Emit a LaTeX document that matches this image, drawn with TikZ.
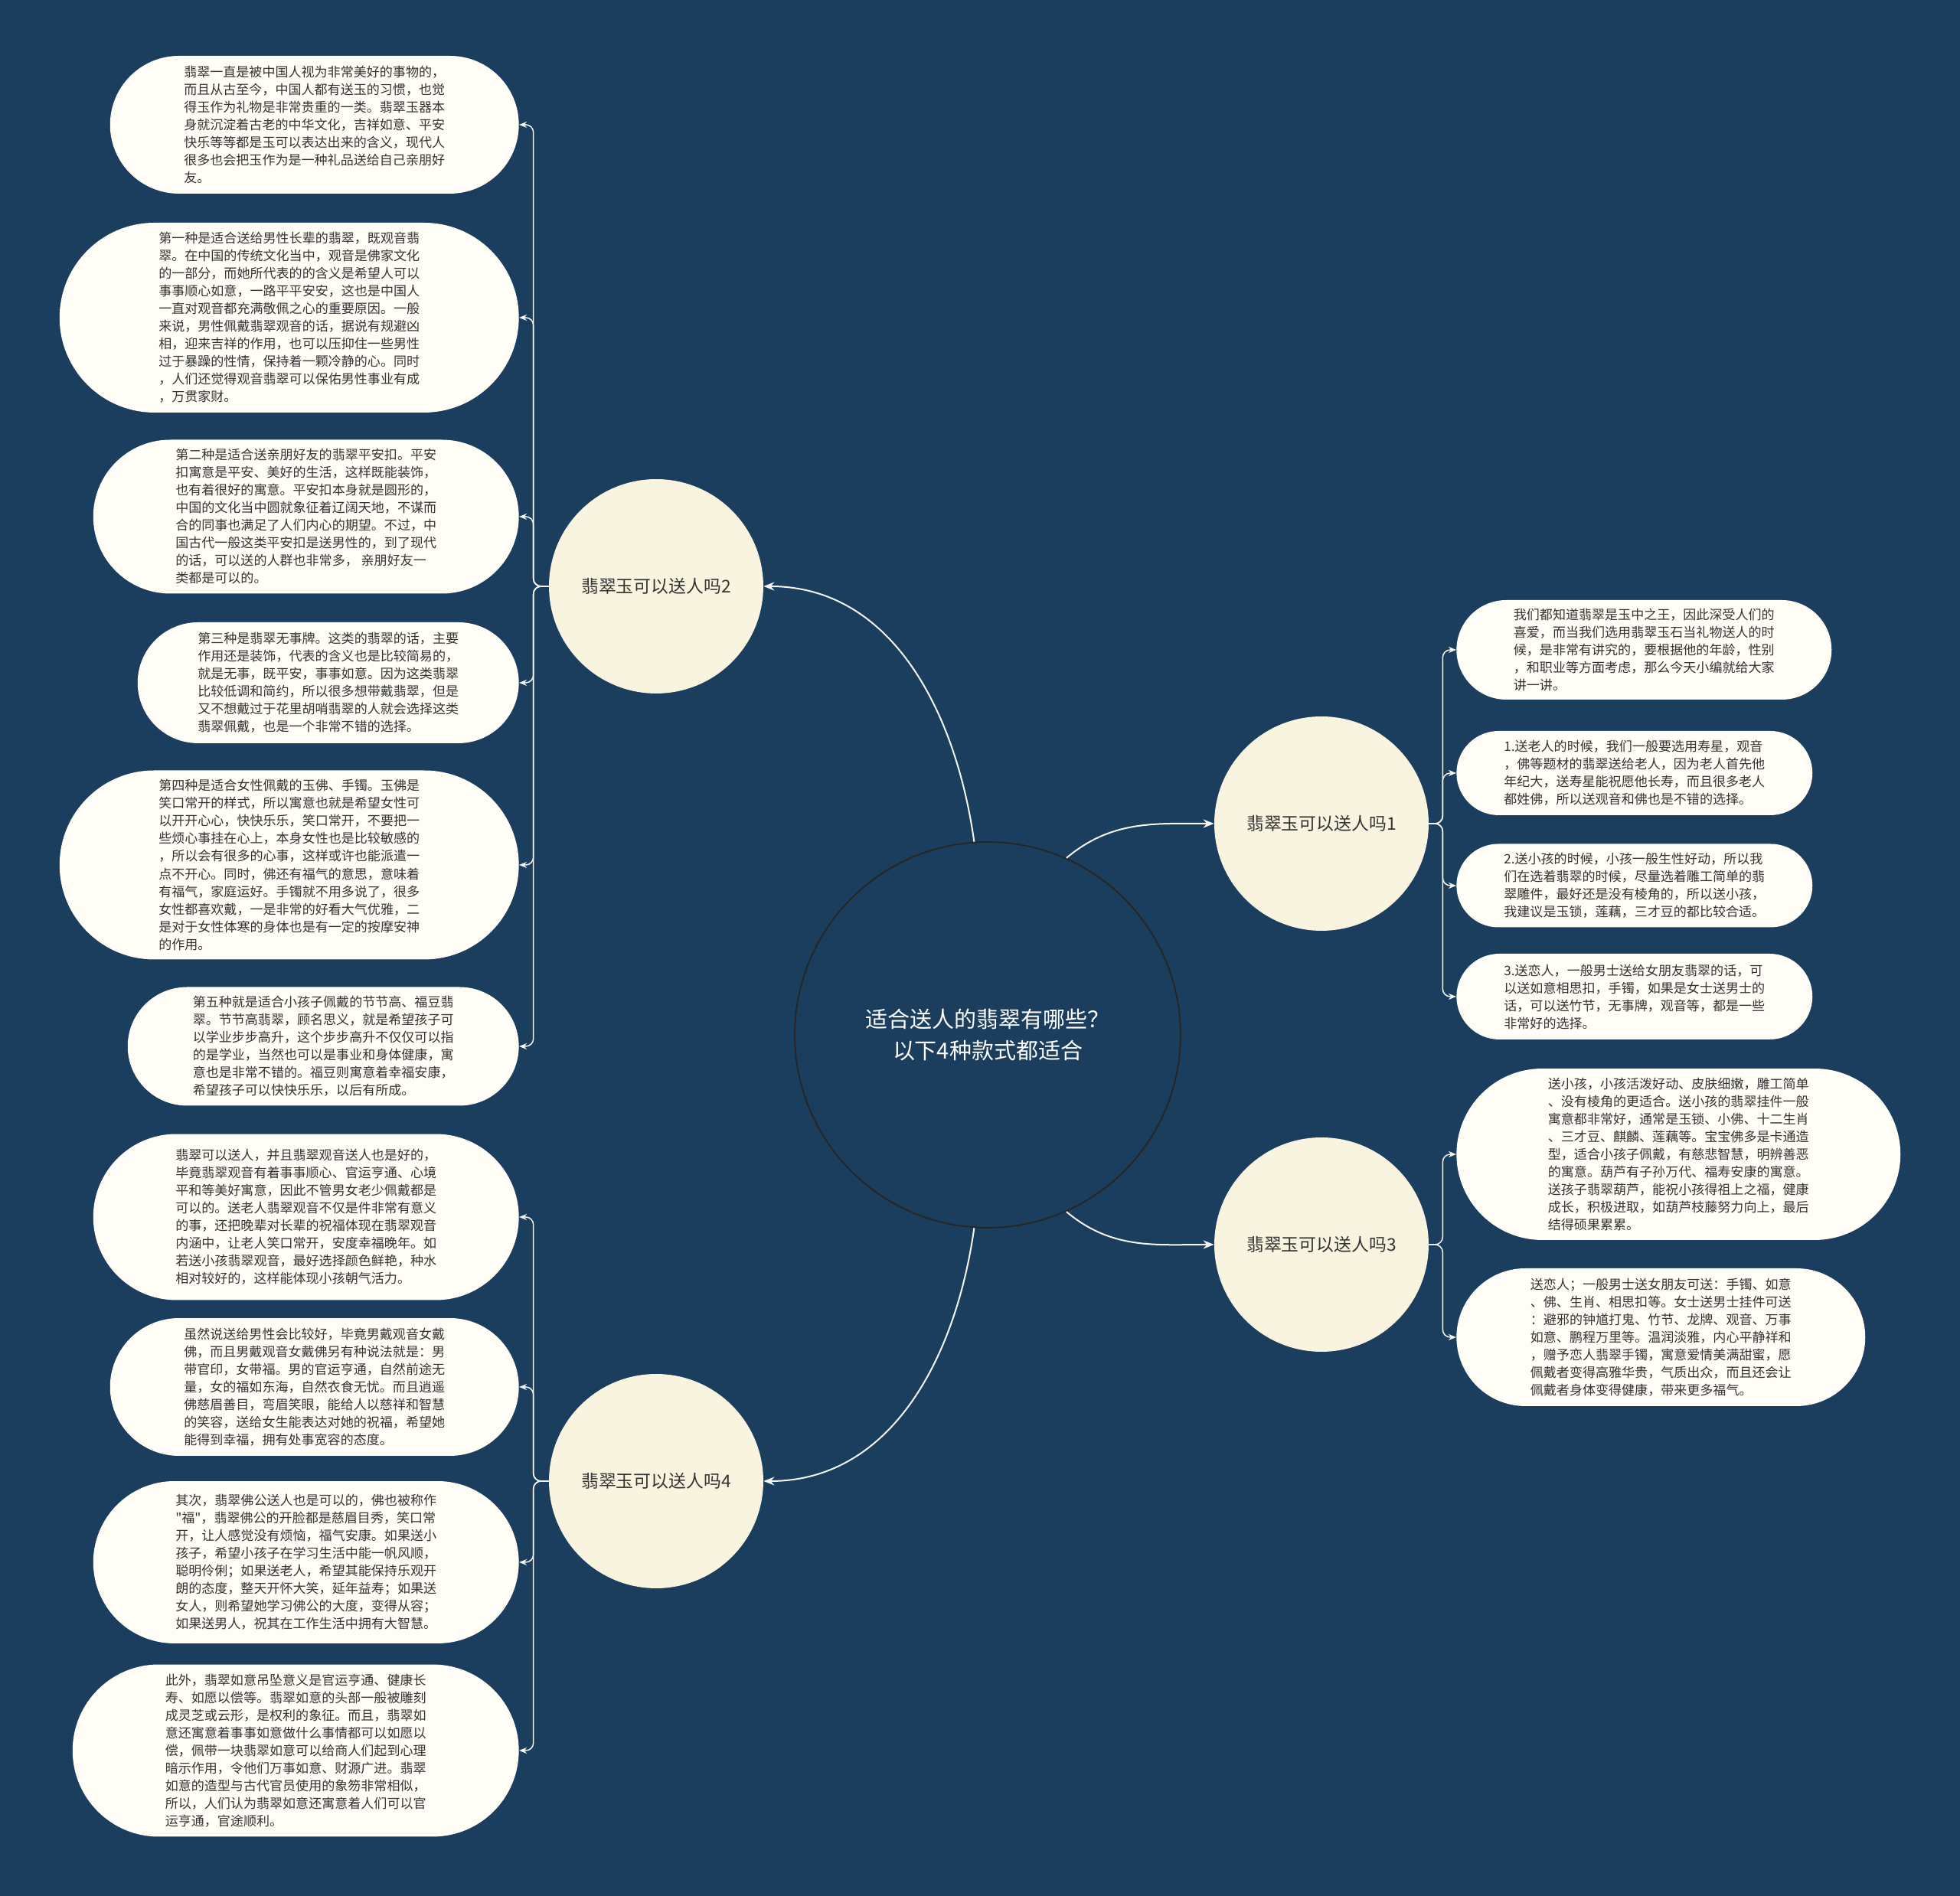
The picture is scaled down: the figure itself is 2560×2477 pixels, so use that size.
\documentclass[tikz,border=0pt]{standalone}
\usepackage{fontspec}
\setmainfont{Noto Sans CJK SC}[Ligatures=TeXOff]
\usepackage{tikz}
\usetikzlibrary{
  arrows.meta,
  shapes.misc,
  positioning
}
\definecolor{bgnavy}{RGB}{28, 62, 94}
\definecolor{creamA}{RGB}{248, 244, 224}
\definecolor{creamB}{RGB}{255, 253, 246}
\definecolor{txtgray}{RGB}{51, 51, 51}
\definecolor{linewhite}{RGB}{245, 245, 240}
\tikzset{
  % Markaziy doira
  rootnode/.style   = {circle, draw=black!85, line width=0.04cm, fill=bgnavy,
                       text=white, minimum size=10.08cm, align=center,
                       font=\fontsize{16.5pt}{23pt}\selectfont},
  % Shoxlar
  branchnode/.style = {circle, fill=creamA, minimum size=5.6cm, text=txtgray,
                       font=\fontsize{13pt}{16pt}\selectfont},
  % Barglar
  leafnode/.style   = {rounded rectangle, fill=creamB, text=txtgray,
                       inner xsep=0pt, inner ysep=2pt, align=left,
                       font=\fontsize{9.7pt}{13.1pt}\selectfont},
  % Chiziqlar
  mainline/.style   = {linewhite, line width=0.04cm,
                       -{Stealth[length=0.28cm, width=0.22cm]}},
  leafline/.style   = {linewhite, line width=0.03cm, rounded corners=0.2cm,
                       -{Stealth[length=0.2cm, width=0.16cm]}},
}

\begin{document}
\begin{tikzpicture}[x=0.02cm, y=0.02cm]
  % Fon
  \useasboundingbox (0,0) rectangle (2560,2477);
  \fill[bgnavy] (0,0) rectangle (2560,2477);
  % Markaz
  \node[rootnode] (root) at (1290,1125) {适合送人的翡翠有哪些？\\以下4种款式都适合};
  % Shoxlar
  \node[branchnode] (b1) at (1726,1401) {翡翠玉可以送人吗1};
  \node[branchnode] (b2) at (857,1711) {翡翠玉可以送人吗2};
  \node[branchnode] (b3) at (1726,851) {翡翠玉可以送人吗3};
  \node[branchnode] (b4) at (857,542) {翡翠玉可以送人吗4};
  \draw[mainline] (root.94) to[out=98, in=0] (b2.east);
  \draw[mainline] (root.-94) to[out=-98, in=0] (b4.east);
  \draw[mainline] (root.66) to[out=40, in=180] (b1.west);
  \draw[mainline] (root.-66) to[out=-40, in=180] (b3.west);
  % Chap barglar (shox 2)
  \node[leafnode, minimum width=10.68cm, minimum height=3.6cm, anchor=east] (l1) at (678,2314)
    {翡翠一直是被中国人视为非常美好的事物的，\\而且从古至今，中国人都有送玉的习惯，也觉\\得玉作为礼物是非常贵重的一类。翡翠玉器本\\身就沉淀着古老的中华文化，吉祥如意、平安\\快乐等等都是玉可以表达出来的含义，现代人\\很多也会把玉作为是一种礼品送给自己亲朋好\\友。};
  \node[leafnode, minimum width=12cm, minimum height=4.96cm, anchor=east] (l2) at (678,2062)
    {第一种是适合送给男性长辈的翡翠，既观音翡\\翠。在中国的传统文化当中，观音是佛家文化\\的一部分，而她所代表的的含义是希望人可以\\事事顺心如意，一路平平安安，这也是中国人\\一直对观音都充满敬佩之心的重要原因。一般\\来说，男性佩戴翡翠观音的话，据说有规避凶\\相，迎来吉祥的作用，也可以压抑住一些男性\\过于暴躁的性情，保持着一颗冷静的心。同时\\，人们还觉得观音翡翠可以保佑男性事业有成\\，万贯家财。};
  \node[leafnode, minimum width=11.12cm, minimum height=4.02cm, anchor=east] (l3) at (678,1802)
    {第二种是适合送亲朋好友的翡翠平安扣。平安\\扣寓意是平安、美好的生活，这样既能装饰，\\也有着很好的寓意。平安扣本身就是圆形的，\\中国的文化当中圆就象征着辽阔天地，不谋而\\合的同事也满足了人们内心的期望。不过，中\\国古代一般这类平安扣是送男性的，到了现代\\的话，可以送的人群也非常多， 亲朋好友一\\类都是可以的。};
  \node[leafnode, minimum width=9.96cm, minimum height=3.16cm, anchor=east] (l4) at (678,1585)
    {第三种是翡翠无事牌。这类的翡翠的话，主要\\作用还是装饰，代表的含义也是比较简易的，\\就是无事，既平安，事事如意。因为这类翡翠\\比较低调和简约，所以很多想带戴翡翠，但是\\又不想戴过于花里胡哨翡翠的人就会选择这类\\翡翠佩戴，也是一个非常不错的选择。};
  \node[leafnode, minimum width=12cm, minimum height=4.94cm, anchor=east] (l5) at (678,1347)
    {第四种是适合女性佩戴的玉佛、手镯。玉佛是\\笑口常开的样式，所以寓意也就是希望女性可\\以开开心心，快快乐乐，笑口常开，不要把一\\些烦心事挂在心上，本身女性也是比较敏感的\\，所以会有很多的心事，这样或许也能派遣一\\点不开心。同时，佛还有福气的意思，意味着\\有福气，家庭运好。手镯就不用多说了，很多\\女性都喜欢戴，一是非常的好看大气优雅，二\\是对于女性体寒的身体也是有一定的按摩安神\\的作用。};
  \node[leafnode, minimum width=10.22cm, minimum height=3.1cm, anchor=east] (l6) at (678,1110)
    {第五种就是适合小孩子佩戴的节节高、福豆翡\\翠。节节高翡翠，顾名思义，就是希望孩子可\\以学业步步高升，这个步步高升不仅仅可以指\\的是学业，当然也可以是事业和身体健康，寓\\意也是非常不错的。福豆则寓意着幸福安康，\\希望孩子可以快快乐乐，以后有所成。};
  % Chap barglar (shox 4)
  \node[leafnode, minimum width=11.12cm, minimum height=4.34cm, anchor=east] (l7) at (678,887)
    {翡翠可以送人，并且翡翠观音送人也是好的，\\毕竟翡翠观音有着事事顺心、官运亨通、心境\\平和等美好寓意，因此不管男女老少佩戴都是\\可以的。送老人翡翠观音不仅是件非常有意义\\的事，还把晚辈对长辈的祝福体现在翡翠观音\\内涵中，让老人笑口常开，安度幸福晚年。如\\若送小孩翡翠观音，最好选择颜色鲜艳，种水\\相对较好的，这样能体现小孩朝气活力。};
  \node[leafnode, minimum width=10.68cm, minimum height=3.6cm, anchor=east] (l8) at (678,665)
    {虽然说送给男性会比较好，毕竟男戴观音女戴\\佛，而且男戴观音女戴佛另有种说法就是：男\\带官印，女带福。男的官运亨通，自然前途无\\量，女的福如东海，自然衣食无忧。而且逍遥\\佛慈眉善目，弯眉笑眼，能给人以慈祥和智慧\\的笑容，送给女生能表达对她的祝福，希望她\\能得到幸福，拥有处事宽容的态度。};
  \node[leafnode, minimum width=11.12cm, minimum height=4.24cm, anchor=east] (l9) at (678,436)
    {其次，翡翠佛公送人也是可以的，佛也被称作\\"福"，翡翠佛公的开脸都是慈眉目秀，笑口常\\开，让人感觉没有烦恼，福气安康。如果送小\\孩子，希望小孩子在学习生活中能一帆风顺，\\聪明伶俐；如果送老人，希望其能保持乐观开\\朗的态度，整天开怀大笑，延年益寿；如果送\\女人，则希望她学习佛公的大度，变得从容；\\如果送男人，祝其在工作生活中拥有大智慧。};
  \node[leafnode, minimum width=11.66cm, minimum height=4.5cm, anchor=east] (l10) at (678,190)
    {此外，翡翠如意吊坠意义是官运亨通、健康长\\寿、如愿以偿等。翡翠如意的头部一般被雕刻\\成灵芝或云形，是权利的象征。而且，翡翠如\\意还寓意着事事如意做什么事情都可以如愿以\\偿，佩带一块翡翠如意可以给商人们起到心理\\暗示作用，令他们万事如意、财源广进。翡翠\\如意的造型与古代官员使用的象笏非常相似，\\所以，人们认为翡翠如意还寓意着人们可以官\\运亨通，官途顺利。};
  % O'ng barglar (shox 1)
  \node[leafnode, minimum width=9.8cm, minimum height=2.6cm, anchor=west] (r1) at (1902,1628)
    {我们都知道翡翠是玉中之王，因此深受人们的\\喜爱，而当我们选用翡翠玉石当礼物送人的时\\候，是非常有讲究的，要根据他的年龄，性别\\，和职业等方面考虑，那么今天小编就给大家\\讲一讲。};
  \node[leafnode, minimum width=9.3cm, minimum height=2.2cm, anchor=west] (r2) at (1902,1467)
    {1.送老人的时候，我们一般要选用寿星，观音\\，佛等题材的翡翠送给老人，因为老人首先他\\年纪大，送寿星能祝愿他长寿，而且很多老人\\都姓佛，所以送观音和佛也是不错的选择。};
  \node[leafnode, minimum width=9.3cm, minimum height=2.18cm, anchor=west] (r3) at (1902,1320)
    {2.送小孩的时候，小孩一般生性好动，所以我\\们在选着翡翠的时候，尽量选着雕工简单的翡\\翠雕件，最好还是没有棱角的，所以送小孩，\\我建议是玉锁，莲藕，三才豆的都比较合适。};
  \node[leafnode, minimum width=9.3cm, minimum height=2.24cm, anchor=west] (r4) at (1902,1175)
    {3.送恋人，一般男士送给女朋友翡翠的话，可\\以送如意相思扣，手镯，如果是女士送男士的\\话，可以送竹节，无事牌，观音等，都是一些\\非常好的选择。};
  % O'ng barglar (shox 3)
  \node[leafnode, minimum width=11.6cm, minimum height=4.48cm, anchor=west] (r5) at (1902,969)
    {送小孩，小孩活泼好动、皮肤细嫩，雕工简单\\、没有棱角的更适合。送小孩的翡翠挂件一般\\寓意都非常好，通常是玉锁、小佛、十二生肖\\、三才豆、麒麟、莲藕等。宝宝佛多是卡通造\\型，适合小孩子佩戴，有慈悲智慧，明辨善恶\\的寓意。葫芦有子孙万代、福寿安康的寓意。\\送孩子翡翠葫芦，能祝小孩得祖上之福，健康\\成长，积极进取，如葫芦枝藤努力向上，最后\\结得硕果累累。};
  \node[leafnode, minimum width=10.68cm, minimum height=3.6cm, anchor=west] (r6) at (1902,730)
    {送恋人；一般男士送女朋友可送：手镯、如意\\、佛、生肖、相思扣等。女士送男士挂件可送\\：避邪的钟馗打鬼、竹节、龙牌、观音、万事\\如意、鹏程万里等。温润淡雅，内心平静祥和\\，赠予恋人翡翠手镯，寓意爱情美满甜蜜，愿\\佩戴者变得高雅华贵，气质出众，而且还会让\\佩戴者身体变得健康，带来更多福气。};
  % Barg chiziqlari
  \foreach \l in {l1,l2,l3,l4,l5,l6}
    \draw[leafline] (b2.west) -- ++(-20,0) |- (\l.east);
  \foreach \l in {l7,l8,l9,l10}
    \draw[leafline] (b4.west) -- ++(-20,0) |- (\l.east);
  \foreach \r in {r1,r2,r3,r4}
    \draw[leafline] (b1.east) -- ++(18,0) |- (\r.west);
  \foreach \r in {r5,r6}
    \draw[leafline] (b3.east) -- ++(18,0) |- (\r.west);
\end{tikzpicture}
\end{document}
